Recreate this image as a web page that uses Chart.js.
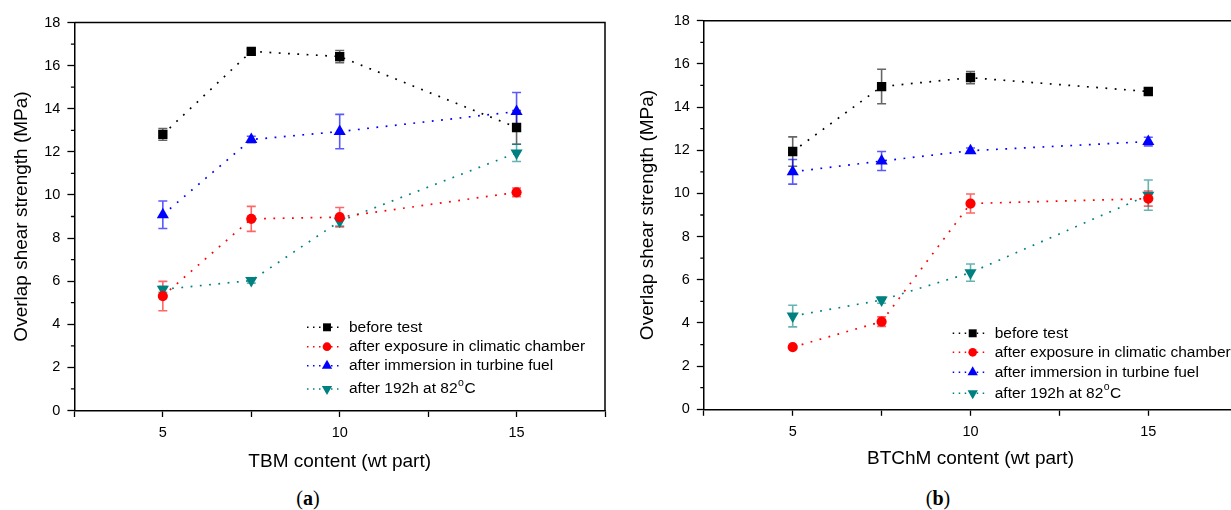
<!DOCTYPE html>
<html>
<head>
<meta charset="utf-8">
<script src="https://cdn.jsdelivr.net/npm/chart.js@4.4.0/dist/chart.umd.min.js"></script>
<style>
  html, body { margin: 0; padding: 0; background: #fff; overflow: hidden; }
  #wrap { position: relative; width: 1231px; height: 510px; overflow: hidden; }
  canvas { position: absolute; top: 0; }
  #chartA { left: 0; }
  #chartB { left: 620px; }
  .cap { position: absolute; top: 487px; width: 100px; text-align: center;
         font-family: "Liberation Serif", "DejaVu Serif", serif; font-size: 20px; line-height: 22px; color: #000; }
</style>
</head>
<body>
<div id="wrap">
  <canvas id="chartA" width="620" height="480"></canvas>
  <canvas id="chartB" width="640" height="480"></canvas>
  <div class="cap" style="left:258px">(<b>a</b>)</div>
  <div class="cap" style="left:888px">(<b>b</b>)</div>
</div>
<script>
// x positions (wt part) and tick labels
const contentLevels = [5, 7.5, 10, 15];
const xTickLabels = [5, 10, 15];
const yTickLabels = [0, 2, 4, 6, 8, 10, 12, 14, 16, 18];
const seriesNames = ['before test', 'after exposure in climatic chamber', 'after immersion in turbine fuel', 'after 192h at 82°C'];

// (a) TBM
const tbmBefore = [12.81, 16.66, 16.42, 13.13];
const tbmBeforeErr = [0.27, 0.12, 0.28, 0.78];
const tbmChamber = [5.31, 8.89, 8.97, 10.12];
const tbmChamberErr = [0.68, 0.58, 0.45, 0.2];
const tbmFuel = [9.08, 12.57, 12.94, 13.87];
const tbmFuelErr = [0.64, 0.15, 0.8, 0.88];
const tbmHeat = [5.62, 6.03, 8.78, 11.95];
const tbmHeatErr = [0.14, 0.12, 0.22, 0.4];

// (b) BTChM
const btchmBefore = [11.94, 14.95, 15.36, 14.72];
const btchmBeforeErr = [0.68, 0.8, 0.28, 0.15];
const btchmChamber = [2.88, 4.06, 9.53, 9.76];
const btchmChamberErr = [0.06, 0.22, 0.44, 0.35];
const btchmFuel = [11.0, 11.5, 11.98, 12.4];
const btchmFuelErr = [0.57, 0.44, 0.12, 0.2];
const btchmHeat = [4.32, 5.06, 6.33, 9.92];
const btchmHeatErr = [0.5, 0.15, 0.4, 0.7];

const colors = ['#000000', '#ff0000', '#0000ff', '#008080'];
const errColors = ['rgba(0,0,0,0.6)', 'rgba(255,0,0,0.6)', 'rgba(0,0,255,0.65)', 'rgba(0,128,128,0.6)'];
const markers = [
  { style: 'rect', radius: 6.6, rotation: 0 },
  { style: 'circle', radius: 5.1, rotation: 0 },
  { style: 'triangle', radius: 7, rotation: 0 },
  { style: 'triangle', radius: 7, rotation: 180 }
];
const FONT = '"Liberation Sans", Arial, sans-serif';

// error bars, frame, minor ticks and the in-plot legend
const panelDecor = {
  id: 'panelDecor',
  beforeDatasetsDraw(chart) {
    const ctx = chart.ctx;
    const y = chart.scales.y;
    ctx.save();
    chart.data.datasets.forEach((ds, i) => {
      const meta = chart.getDatasetMeta(i);
      ctx.strokeStyle = errColors[i];
      ctx.lineWidth = 1.6;
      meta.data.forEach((pt, j) => {
        const v = ds.data[j].y, e = ds.errors[j];
        const top = y.getPixelForValue(v + e), bot = y.getPixelForValue(v - e);
        ctx.beginPath();
        ctx.moveTo(pt.x, top); ctx.lineTo(pt.x, bot);
        ctx.moveTo(pt.x - 4.5, top); ctx.lineTo(pt.x + 4.5, top);
        ctx.moveTo(pt.x - 4.5, bot); ctx.lineTo(pt.x + 4.5, bot);
        ctx.stroke();
      });
    });
    ctx.restore();
  },
  afterDraw(chart, args, opts) {
    const ctx = chart.ctx;
    const a = chart.chartArea;
    const y = chart.scales.y;
    ctx.save();
    // top + right frame
    ctx.strokeStyle = '#000';
    ctx.lineWidth = 1.5;
    ctx.beginPath();
    ctx.moveTo(a.left, a.top); ctx.lineTo(a.right, a.top); ctx.lineTo(a.right, a.bottom);
    ctx.stroke();
    // minor y ticks
    ctx.lineWidth = 1.3;
    ctx.beginPath();
    for (let v = 1; v < 18; v += 2) {
      const py = y.getPixelForValue(v);
      ctx.moveTo(a.left - 3.5, py); ctx.lineTo(a.left, py);
    }
    ctx.stroke();

    // legend
    const lx = a.left + opts.legendX, ly = a.top;
    ctx.font = '15.5px ' + FONT;
    ctx.textBaseline = 'middle';
    chart.data.datasets.forEach((ds, i) => {
      const ry = ly + opts.rows[i];
      ctx.strokeStyle = colors[i];
      ctx.lineWidth = 1.5;
      ctx.setLineDash([1.5, 4.5]);
      ctx.beginPath();
      ctx.moveTo(lx, ry); ctx.lineTo(lx + 32, ry);
      ctx.stroke();
      ctx.setLineDash([]);
      ctx.fillStyle = colors[i];
      const m = markers[i];
      Chart.helpers.drawPoint(ctx, { pointStyle: m.style, radius: m.radius * 0.85, rotation: m.rotation, borderWidth: 0 }, lx + 20, ry);
      ctx.fillStyle = '#000';
      const label = ds.label;
      const tx = lx + 42;
      const k = label.indexOf('°');
      if (k < 0) {
        ctx.fillText(label, tx, ry);
      } else {
        const head = label.slice(0, k);
        ctx.fillText(head, tx, ry);
        const w1 = ctx.measureText(head).width;
        ctx.font = '10.5px ' + FONT;
        ctx.fillText('o', tx + w1 + 0.5, ry - 6);
        const w2 = ctx.measureText('o').width;
        ctx.font = '15.5px ' + FONT;
        ctx.fillText(label.slice(k + 1), tx + w1 + w2 + 1, ry);
      }
    });
    ctx.restore();
  }
};

function makePanel(canvasId, xTitle, values, errors, geom) {
  const datasets = values.map((vals, i) => ({
    label: seriesNames[i],
    data: contentLevels.map((x, j) => ({ x: x, y: vals[j] })),
    errors: errors[i],
    showLine: true,
    borderColor: colors[i],
    backgroundColor: colors[i],
    borderWidth: 1.7,
    borderDash: [1.8, 7.5],
    pointStyle: markers[i].style,
    pointRadius: markers[i].radius,
    pointRotation: markers[i].rotation,
    pointBorderWidth: 0,
    pointBackgroundColor: colors[i]
  }));

  return new Chart(document.getElementById(canvasId), {
    type: 'scatter',
    data: { datasets: datasets },
    options: {
      responsive: false,
      animation: false,
      devicePixelRatio: 1,
      layout: { padding: { left: geom.padLeft, top: geom.top, right: geom.padRight, bottom: 0 } },
      plugins: {
        legend: { display: false },
        tooltip: { enabled: false },
        panelDecor: { legendX: geom.legendX, rows: geom.rows }
      },
      scales: {
        x: {
          type: 'linear',
          min: 2.5,
          max: 17.5,
          afterBuildTicks: (s) => { s.ticks = [2.5, 5, 7.5, 10, 12.5, 15, 17.5].map(v => ({ value: v })); },
          afterFit: (s) => { s.height = geom.xAxisHeight; },
          ticks: {
            autoSkip: false,
            maxRotation: 0,
            padding: 7,
            color: '#000',
            font: { family: FONT, size: 14.5 },
            callback: (v) => xTickLabels.includes(v) ? String(v) : ''
          },
          grid: { drawOnChartArea: false, drawTicks: true, tickLength: 6.5, tickColor: '#000', tickWidth: 1.3 },
          border: { display: true, color: '#000', width: 1.5 },
          title: { display: true, text: xTitle, color: '#000', font: { family: FONT, size: 19 }, padding: { top: 0, bottom: geom.xTitlePad } }
        },
        y: {
          min: 0,
          max: 18,
          afterBuildTicks: (s) => { s.ticks = yTickLabels.map(v => ({ value: v })); },
          afterFit: (s) => { s.width = geom.yAxisWidth; },
          ticks: { padding: 7, color: '#000', font: { family: FONT, size: 14.5 } },
          grid: { drawOnChartArea: false, drawTicks: true, tickLength: 7, tickColor: '#000', tickWidth: 1.3 },
          border: { display: true, color: '#000', width: 1.5 },
          title: { display: true, text: 'Overlap shear strength (MPa)', color: '#000', font: { family: FONT, size: 19 }, padding: { top: geom.yTitlePad, bottom: 0 } }
        }
      }
    },
    plugins: [panelDecor]
  });
}

makePanel('chartA', 'TBM content (wt part)',
  [tbmBefore, tbmChamber, tbmFuel, tbmHeat],
  [tbmBeforeErr, tbmChamberErr, tbmFuelErr, tbmHeatErr],
  { padLeft: 0, padRight: 15, top: 22.5, yAxisWidth: 74.4, xAxisHeight: 69.5, yTitlePad: 10.3, xTitlePad: 6.6,
    legendX: 232.6, rows: [304.8, 324.2, 343.2, 366.5] });

makePanel('chartB', 'BTChM content (wt part)',
  [btchmBefore, btchmChamber, btchmFuel, btchmHeat],
  [btchmBeforeErr, btchmChamberErr, btchmFuelErr, btchmHeatErr],
  { padLeft: 0, padRight: 22.8, top: 20.7, yAxisWidth: 83.8, xAxisHeight: 70.7, yTitlePad: 15.9, xTitlePad: 10.3,
    legendX: 248.9, rows: [312.6, 331.6, 351.6, 372.6] });
</script>
</body>
</html>
